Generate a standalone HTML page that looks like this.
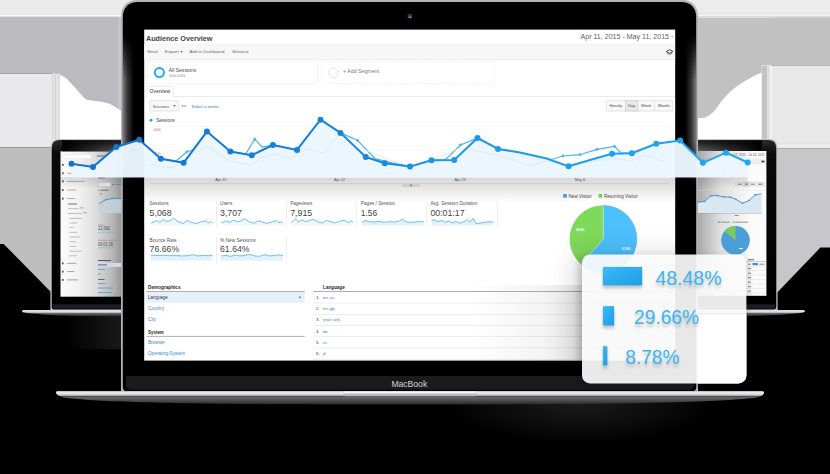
<!DOCTYPE html>
<html><head><meta charset="utf-8"><title>Analytics devices</title>
<style>
html,body{margin:0;padding:0;background:#000;width:830px;height:474px;overflow:hidden}
svg{display:block;font-family:"Liberation Sans",sans-serif}
</style></head><body>
<svg width="830" height="474" viewBox="0 0 830 474">
<defs>
<linearGradient id="lineg" gradientUnits="userSpaceOnUse" x1="71" y1="0" x2="748" y2="0">
<stop offset="0" stop-color="#1571d0"/><stop offset="0.25" stop-color="#167bd8"/><stop offset="0.45" stop-color="#1789e2"/><stop offset="0.56" stop-color="#1a98ea"/><stop offset="1" stop-color="#21a6f2"/></linearGradient>
<linearGradient id="shadowdown" x1="0" y1="0" x2="0" y2="1">
<stop offset="0" stop-color="#000" stop-opacity="0.155"/><stop offset="0.3" stop-color="#000" stop-opacity="0.12"/><stop offset="1" stop-color="#000" stop-opacity="0"/></linearGradient>
<linearGradient id="baseg" x1="0" y1="0" x2="0" y2="1">
<stop offset="0" stop-color="#a4a4a6"/><stop offset="0.06" stop-color="#d6d6d8"/><stop offset="0.16" stop-color="#f3f3f3"/><stop offset="0.3" stop-color="#bdbdbf"/><stop offset="0.37" stop-color="#a0a0a3"/><stop offset="0.41" stop-color="#48484b"/><stop offset="0.48" stop-color="#646468"/><stop offset="0.75" stop-color="#47474a"/><stop offset="1" stop-color="#262628"/></linearGradient>
<linearGradient id="sbaseg" x1="0" y1="0" x2="0" y2="1">
<stop offset="0" stop-color="#c8c8ca"/><stop offset="0.12" stop-color="#f2f2f2"/><stop offset="0.38" stop-color="#c0c0c2"/><stop offset="0.5" stop-color="#6a6a6d"/><stop offset="0.75" stop-color="#4a4a4d"/><stop offset="1" stop-color="#222"/></linearGradient>
<linearGradient id="bezL" x1="0" y1="0" x2="1" y2="0">
<stop offset="0" stop-color="#7e7e7e"/><stop offset="0.45" stop-color="#343434"/><stop offset="1" stop-color="#000"/></linearGradient>
<linearGradient id="bezR" x1="1" y1="0" x2="0" y2="0">
<stop offset="0" stop-color="#7e7e7e"/><stop offset="0.45" stop-color="#343434"/><stop offset="1" stop-color="#000"/></linearGradient>
<linearGradient id="fadeV" x1="0" y1="0" x2="0" y2="1">
<stop offset="0" stop-color="#fff" stop-opacity="0"/><stop offset="0.3" stop-color="#fff" stop-opacity="1"/><stop offset="0.7" stop-color="#fff" stop-opacity="1"/><stop offset="1" stop-color="#fff" stop-opacity="0"/></linearGradient>
<mask id="mV" maskContentUnits="objectBoundingBox"><rect x="0" y="0" width="1" height="1" fill="url(#fadeV)"/></mask>
<linearGradient id="sl_screen" x1="0" y1="0" x2="1" y2="0">
<stop offset="0" stop-color="#fbfbfb"/><stop offset="0.3" stop-color="#f1f1f1"/><stop offset="0.55" stop-color="#dddddd"/><stop offset="0.8" stop-color="#b9b9b9"/><stop offset="1" stop-color="#8a8a8a"/></linearGradient>
<linearGradient id="sr_screen" x1="0" y1="0" x2="1" y2="0">
<stop offset="0" stop-color="#9f9f9f"/><stop offset="0.35" stop-color="#dedede"/><stop offset="0.8" stop-color="#fbfbfb"/></linearGradient>
<linearGradient id="panelshadow" x1="1" y1="0" x2="0" y2="0">
<stop offset="0" stop-color="#000" stop-opacity="0.09"/><stop offset="0.4" stop-color="#000" stop-opacity="0.04"/><stop offset="1" stop-color="#000" stop-opacity="0"/></linearGradient>
<linearGradient id="barg" x1="0" y1="0" x2="1" y2="1">
<stop offset="0" stop-color="#3cb9f7"/><stop offset="1" stop-color="#1c9de8"/></linearGradient>
<linearGradient id="sbezel" x1="0" y1="0" x2="0" y2="1">
<stop offset="0" stop-color="#2b2b2b"/><stop offset="0.08" stop-color="#0a0a0a"/><stop offset="1" stop-color="#000"/></linearGradient>
<clipPath id="scr"><rect x="144.2" y="29.6" width="531" height="331"/></clipPath>
<linearGradient id="glowL" x1="0" y1="0" x2="1" y2="0"><stop offset="0" stop-color="#1d1d1d" stop-opacity="0"/><stop offset="1" stop-color="#1c1c1c" stop-opacity="0.9"/></linearGradient>
<filter id="blurT" x="-10%" y="-30%" width="120%" height="160%"><feGaussianBlur stdDeviation="1.6"/></filter>
<filter id="blur3" x="-30%" y="-30%" width="160%" height="160%"><feGaussianBlur stdDeviation="13"/></filter>
<linearGradient id="tbR" x1="0" y1="0" x2="1" y2="0"><stop offset="0" stop-color="#606060"/><stop offset="0.5" stop-color="#2e2e2e"/><stop offset="1" stop-color="#000"/></linearGradient>
<linearGradient id="tbL" x1="1" y1="0" x2="0" y2="0"><stop offset="0" stop-color="#606060"/><stop offset="0.5" stop-color="#2e2e2e"/><stop offset="1" stop-color="#000"/></linearGradient>
<linearGradient id="tbV" x1="0" y1="0" x2="0" y2="1"><stop offset="0" stop-color="#000" stop-opacity="0.75"/><stop offset="1" stop-color="#000" stop-opacity="0"/></linearGradient>
<radialGradient id="botglow"><stop offset="0" stop-color="#1a1a1a"/><stop offset="0.5" stop-color="#0e0e0e"/><stop offset="1" stop-color="#000"/></radialGradient>
<filter id="blur1"><feGaussianBlur stdDeviation="0.35"/></filter>
<filter id="blur2"><feGaussianBlur stdDeviation="3"/></filter>
</defs>
<rect width="830" height="474" fill="#000"/>
<rect x="0" y="0" width="142" height="17" fill="#ebebeb"/>
<rect x="0" y="15" width="124" height="1.3" fill="#f8f8f8"/>
<rect x="52" y="17" width="72" height="124" fill="#fff"/>
<path d="M0,16.8 H124 V112.3 L122.8,111.5 L116,107.4 L110,104 L105,102.6 L100,101.5 L93,100.8 L86.5,99.7 L84,97.8 L82,95.5 L75.2,87.7 L67.7,79.7 L65.2,77.6 L63,76.2 L59,74.4 L52.3,73.5 H0 Z" fill="#bbbbbd"/>
<rect x="118" y="17" width="5" height="92" fill="#c6c6c8"/>
<rect x="0" y="73.5" width="52.5" height="74" fill="#e9e9eb"/>
<rect x="52.1" y="73.6" width="7.6" height="66" fill="#e3e3e4"/><rect x="52.2" y="73.6" width="0.8" height="66" fill="#d2d2d2"/><rect x="55.2" y="73.6" width="0.8" height="66" fill="#cecece"/><rect x="58.7" y="75" width="0.9" height="65" fill="#d4d4d4"/>
<path d="M0,147.4 H52.5 V293.5 L50.4,291.5 L3.7,244 H0 Z" fill="#bebebf"/>
<rect x="678" y="0" width="152" height="18" fill="#ececec"/>
<rect x="696" y="13.4" width="134" height="0.9" fill="#dedede"/><rect x="696" y="14.6" width="134" height="1.2" fill="#f4f4f4"/><rect x="696" y="16.2" width="134" height="1" fill="#d8d8d8"/>
<rect x="696" y="17" width="75" height="124" fill="#fff"/>
<path d="M830,17.6 H696 V118.6 L698.6,118.2 L705.3,117.6 L709,115.5 L713.8,111.5 L718,106 L722,100.5 L726,96 L730.7,91.2 L736,87 L741,83.5 L747.6,79.4 L754,76 L761.7,72.6 V65.4 H830 Z" fill="#c1c1c1"/>
<rect x="771" y="65.4" width="60" height="83" fill="#e8e8e8"/>
<rect x="761.7" y="66" width="5.5" height="75" fill="#c3c3c3"/><rect x="767.1" y="65.4" width="3.1" height="75" fill="#dedede"/><rect x="770.1" y="65.4" width="1.5" height="75" fill="#f6f6f6"/>
<path d="M776,148.2 H830 V247.6 H820.4 L777,292.7 Z" fill="#c7c7c9"/><rect x="777.6" y="145.4" width="53" height="2" fill="#f0f0f0"/><rect x="777.6" y="142.8" width="53" height="0.9" fill="#e0e0e0"/>
<path d="M50.4,310.3 V147.6 Q50.4,139 59,139 H124 V310.3 Z" fill="#c4c4c6"/>
<path d="M51.7,306.8 V147.8 Q51.7,139.9 59.6,139.9 H124 V309.4 H54 Q51.7,309.4 51.7,306.8 Z" fill="url(#sbezel)"/>
<rect x="53" y="304.3" width="71" height="4.4" fill="#1d1d21"/>
<rect x="60.5" y="151.3" width="64" height="145.4" fill="url(#sl_screen)"/>
<path d="M22,311.5 C22,310.5 23,310.1 25,310.1 H124 V316.3 C100,316.3 62,315.8 42,314.4 C31,313.6 22,312.8 22,311.5 Z" fill="url(#sbaseg)"/>
<rect x="62" y="140.6" width="62" height="10.7" fill="url(#tbL)"/><rect x="62" y="140.6" width="62" height="10.7" fill="url(#tbV)"/>
<rect x="61.7" y="154.8" width="29.6" height="3.8" fill="#fbfbfb" stroke="#e2e2e2" stroke-width="0.4"/>
<rect x="62" y="163.9" width="1.6" height="2" fill="#555"/>
<rect x="62" y="172.3" width="1.6" height="2" fill="#555"/>
<rect x="67.2" y="172.85000000000002" width="5" height="0.9" fill="#a5a5a5"/>
<rect x="62" y="180.3" width="1.6" height="2" fill="#555"/>
<rect x="67.2" y="180.85000000000002" width="17" height="0.9" fill="#a5a5a5"/>
<rect x="62" y="189" width="1.6" height="2" fill="#555"/>
<rect x="67.2" y="189.55" width="9" height="0.9" fill="#a5a5a5"/>
<rect x="62" y="197.6" width="1.6" height="2" fill="#555"/>
<rect x="67.2" y="198.15" width="8" height="0.9" fill="#a5a5a5"/>
<rect x="68" y="203.55" width="9" height="0.9" fill="#666"/>
<rect x="68" y="208.25" width="11" height="0.9" fill="#b8b8b8"/>
<rect x="68" y="213.15" width="14" height="0.9" fill="#b8b8b8"/>
<rect x="69" y="217.95000000000002" width="13" height="0.9" fill="#b8b8b8"/>
<rect x="69.5" y="222.55" width="7.5" height="0.9" fill="#b8b8b8"/>
<rect x="69.5" y="227.15" width="4" height="0.9" fill="#b8b8b8"/>
<rect x="69.5" y="231.85000000000002" width="7.5" height="0.9" fill="#b8b8b8"/>
<rect x="69.5" y="236.55" width="10.5" height="0.9" fill="#b8b8b8"/>
<rect x="69.5" y="241.35000000000002" width="6.5" height="0.9" fill="#b8b8b8"/>
<rect x="69.5" y="246.05" width="6.5" height="0.9" fill="#b8b8b8"/>
<rect x="69.5" y="250.75" width="12.5" height="0.9" fill="#b8b8b8"/>
<rect x="68.5" y="255.35000000000002" width="8.5" height="0.9" fill="#b8b8b8"/>
<rect x="80" y="207.4" width="3.6" height="0.9" fill="#e8863a"/><rect x="83" y="212.2" width="3.6" height="0.9" fill="#e8863a"/>
<rect x="62" y="262.3" width="1.6" height="2" fill="#555"/><rect x="67.2" y="262.85" width="9" height="0.9" fill="#9a9a9a"/>
<rect x="62" y="270.6" width="1.6" height="2" fill="#555"/><rect x="67.2" y="271.15000000000003" width="7" height="0.9" fill="#9a9a9a"/>
<rect x="62" y="278.9" width="1.6" height="2" fill="#555"/><rect x="67.2" y="279.45" width="11" height="0.9" fill="#9a9a9a"/>
<rect x="96.8" y="155.2" width="14" height="1.6" fill="#777" opacity="0.7"/>
<rect x="98" y="177.4" width="7" height="1" fill="#555" opacity="0.8"/>
<rect x="98.5" y="182.4" width="12" height="3.9" fill="#e9e9e9" stroke="#b5b5b5" stroke-width="0.3"/>
<rect x="112" y="184" width="2.5" height="0.8" fill="#777"/><rect x="116" y="184" width="5" height="0.8" fill="#4a8ec4"/>
<circle cx="98.8" cy="190.2" r="0.7" fill="#3a8cc4"/><rect x="100.6" y="189.8" width="8" height="0.9" fill="#666"/>
<rect x="99.5" y="193.6" width="3" height="0.8" fill="#888"/>
<path d="M99.2,203.5 L105.6,199.8 L112.3,198.5 L118,198.7 L124,198.8 V213.3 H99.2 Z" fill="#c3d2de" opacity="0.85"/>
<path d="M99.2,203.5 L105.6,199.8 L112.3,198.5 L118,198.7 L124,198.8" fill="none" stroke="#3f86b8" stroke-width="0.8"/>
<circle cx="105.6" cy="199.8" r="0.8" fill="#3f86b8"/><circle cx="112.3" cy="198.5" r="0.8" fill="#3f86b8"/>
<rect x="98" y="224.6" width="5.5" height="0.8" fill="#999"/>
<text x="98" y="230.1" font-size="4.6" fill="#4a4a4a" font-weight="normal" text-anchor="start" textLength="12" lengthAdjust="spacingAndGlyphs" >12,062</text>
<path d="M98,232.6 l2,-0.5 l2,0.6 l2,-0.8 l2,0.7 l2,-0.4 l2,0.5 l2,-0.9 l2,0.6 l2,-0.3 l2,0.4 l2,-0.5 l2,0.3" fill="none" stroke="#6fb2d8" stroke-width="0.6"/>
<rect x="98" y="239.8" width="20" height="0.8" fill="#999"/>
<text x="98" y="245.7" font-size="4.6" fill="#4a4a4a" font-weight="normal" text-anchor="start" textLength="15" lengthAdjust="spacingAndGlyphs" >00:01:16</text>
<path d="M98,248 l2,-0.4 l2,0.5 l2,-0.6 l2,0.7 l2,-0.5 l2,0.4 l2,-0.8 l2,0.6 l2,-0.2 l2,0.4 l2,-0.5 l2,0.3" fill="none" stroke="#6fb2d8" stroke-width="0.6"/>
<rect x="98" y="260" width="13" height="1" fill="#555"/>
<rect x="97" y="263" width="27" height="3.9" fill="#cfdbe6"/><rect x="98" y="264.5" width="9" height="0.9" fill="#556"/>
<rect x="98" y="268.95" width="7" height="0.9" fill="#5b9bd0"/>
<rect x="98" y="273.55" width="3" height="0.9" fill="#5b9bd0"/>
<rect x="98" y="278.95" width="6.5" height="0.9" fill="#555"/>
<rect x="98" y="283.15000000000003" width="7" height="0.9" fill="#5b9bd0"/>
<rect x="98" y="287.55" width="15" height="0.9" fill="#5b9bd0"/>
<rect x="98" y="292.05" width="14" height="0.9" fill="#5b9bd0"/>
<rect x="66" y="316" width="56" height="33" fill="url(#glowL)"/>
<path d="M690,139 H769 Q777.6,139 777.6,147.6 V310.3 H690 Z" fill="#c4c4c6"/>
<path d="M690,139.9 H768.4 Q776.3,139.9 776.3,147.8 V306.8 Q776.3,309.4 774,309.4 H690 Z" fill="url(#sbezel)"/>
<rect x="690" y="304.3" width="85" height="4.4" fill="#1d1d21"/>
<rect x="694" y="151" width="72.4" height="144.8" fill="url(#sr_screen)"/>
<path d="M694,310.1 H802 C804,310.1 805,310.5 805,311.5 C805,312.8 796,313.6 785,314.4 C765,315.8 727,316.3 694,316.3 Z" fill="url(#sbaseg)"/>
<rect x="696" y="140.6" width="66" height="10.4" fill="url(#tbR)"/><rect x="696" y="140.6" width="66" height="10.4" fill="url(#tbV)"/>
<rect x="694" y="158.5" width="72.4" height="5.9" fill="#000" opacity="0.05"/>
<text x="764.5" y="156.3" font-size="3" fill="#555" font-weight="normal" text-anchor="end" >Jun 17, 2015 - Jul 16, 2015</text>
<rect x="761.4" y="160.7" width="3" height="1.6" fill="#333"/>
<rect x="735.9" y="182.1" width="28.1" height="3.9" fill="#f4f4f4" stroke="#b5b5b5" stroke-width="0.35"/>
<rect x="743.6" y="182.1" width="5.6" height="3.9" fill="#dedede" stroke="#aaa" stroke-width="0.3"/>
<rect x="756.4" y="182.1" width="0.35" height="3.9" fill="#bbb"/>
<rect x="737.3" y="183.7" width="4.6" height="0.9" fill="#666"/>
<rect x="745" y="183.7" width="2.8" height="0.9" fill="#666"/>
<rect x="750.8" y="183.7" width="4" height="0.9" fill="#666"/>
<rect x="758" y="183.7" width="4.4" height="0.9" fill="#666"/>
<path d="M694,202.4 L698.6,202 L704.5,201.5 L711.1,195.8 L717.4,195.6 L723.7,197 L730,197 L735.9,199.3 L742.5,203.3 L748.8,200.6 L755,194.9 L761.4,193.8 V213.1 H694 Z" fill="#d9e7f2"/>
<path d="M694,202.4 L698.6,202 L704.5,201.5 L711.1,195.8 L717.4,195.6 L723.7,197 L730,197 L735.9,199.3 L742.5,203.3 L748.8,200.6 L755,194.9 L761.4,193.8" fill="none" stroke="#3f8fc4" stroke-width="0.9"/>
<circle cx="698.6" cy="202" r="0.8" fill="#3f8fc4"/>
<circle cx="704.5" cy="201.5" r="0.8" fill="#3f8fc4"/>
<circle cx="711.1" cy="195.8" r="0.8" fill="#3f8fc4"/>
<circle cx="717.4" cy="195.6" r="0.8" fill="#3f8fc4"/>
<circle cx="723.7" cy="197" r="0.8" fill="#3f8fc4"/>
<circle cx="730" cy="197" r="0.8" fill="#3f8fc4"/>
<circle cx="735.9" cy="199.3" r="0.8" fill="#3f8fc4"/>
<circle cx="742.5" cy="203.3" r="0.8" fill="#3f8fc4"/>
<circle cx="748.8" cy="200.6" r="0.8" fill="#3f8fc4"/>
<circle cx="755" cy="194.9" r="0.8" fill="#3f8fc4"/>
<rect x="698" y="213.1" width="64" height="0.4" fill="#999"/>
<rect x="698" y="190" width="68" height="0.3" fill="#ddd"/>
<rect x="734.6" y="215.2" width="4" height="0.8" fill="#777"/>
<rect x="718.2" y="221.3" width="1.6" height="1.6" fill="#3da5e0"/><rect x="720.6" y="221.7" width="9" height="0.9" fill="#888"/>
<rect x="732.8" y="221.3" width="1.6" height="1.6" fill="#7bd04f"/><rect x="735.2" y="221.7" width="13" height="0.9" fill="#888"/>
<circle cx="735.5" cy="240.3" r="14.3" fill="#4b9fd6"/>
<path d="M735.5,240.3 L724.55,231.11 A14.3,14.3 0 0 1 735.5,226.0 Z" fill="#7ccb5a"/>
<rect x="739" y="248" width="4" height="1" fill="#fff"/>
<rect x="748" y="259.3" width="6" height="0.9" fill="#555"/>
<rect x="746" y="261.6" width="20" height="0.4" fill="#888"/>
<rect x="746" y="265.9" width="20" height="0.3" fill="#ccc"/>
<rect x="748" y="263.7" width="3" height="0.9" fill="#777"/>
<rect x="746" y="270.4" width="20" height="0.3" fill="#ccc"/>
<rect x="748" y="268.2" width="3" height="0.9" fill="#777"/>
<rect x="746" y="274.9" width="20" height="0.3" fill="#ccc"/>
<rect x="748" y="272.7" width="3" height="0.9" fill="#777"/>
<rect x="746" y="279.4" width="20" height="0.3" fill="#ccc"/>
<rect x="748" y="277.2" width="3" height="0.9" fill="#777"/>
<rect x="746" y="283.9" width="20" height="0.3" fill="#ccc"/>
<rect x="748" y="281.7" width="3" height="0.9" fill="#777"/>
<rect x="746" y="288.4" width="20" height="0.3" fill="#ccc"/>
<rect x="748" y="286.2" width="3" height="0.9" fill="#777"/>
<rect x="746" y="292.9" width="20" height="0.3" fill="#ccc"/>
<rect x="748" y="290.7" width="3" height="0.9" fill="#777"/>
<rect x="752.5" y="263" width="5.5" height="2.2" fill="#3f8fc4"/>
<rect x="759.5" y="263.7" width="5" height="0.9" fill="#777"/>
<ellipse cx="580" cy="404" rx="135" ry="40" fill="url(#botglow)"/>
<path d="M121,392 V16.5 C121,6 127,0 137.5,0 H681.5 C692,0 698,6 698,16.5 V392 Z" fill="#b4b4b7"/>
<path d="M122.8,387 V17 C122.8,7.5 128.5,1.9 138,1.9 H681 C690.5,1.9 696.2,7.5 696.2,17 V387 Q696.2,391.2 692.2,391.2 H126.8 Q122.8,391.2 122.8,387 Z" fill="#000"/>
<rect x="122.7" y="35" width="11" height="150" fill="url(#bezL)" mask="url(#mV)"/>
<rect x="685.3" y="35" width="11" height="150" fill="url(#bezR)" mask="url(#mV)"/>
<path d="M126,376 H694 V384.6 Q694,389.8 688.8,389.8 H131.2 Q126,389.8 126,384.6 Z" fill="#1b1b1f"/>
<text x="391.4" y="387.4" font-size="9.9" fill="#d4d4d6" font-weight="normal" text-anchor="start" textLength="35.8" lengthAdjust="spacingAndGlyphs" >MacBook</text>
<circle cx="409.7" cy="16.1" r="2.3" fill="#3a3b3a"/><circle cx="409.9" cy="16.6" r="1.7" fill="#8e9090"/><circle cx="409.5" cy="15.8" r="1.35" fill="#1b2a84"/>
<path d="M56,392.4 C56,391.3 57,390.9 59,390.9 H761 C763,390.9 764,391.3 764,392.4 C764,394.5 762,396 757,397.5 C720,402.5 620,404.6 410,404.6 C200,404.6 100,402.5 63,397.5 C58,396 56,394.5 56,392.6 Z" fill="url(#baseg)"/>
<path d="M343.5,391.3 H476.5 V394.2 Q476.5,396.3 473.5,396.3 H346.5 Q343.5,396.3 343.5,394.2 Z" fill="#b9b9bc"/>
<rect x="343.5" y="391.3" width="133" height="2.2" fill="#f6f6f6"/>
<rect x="144.2" y="29.6" width="531" height="331" fill="#fff"/>
<g clip-path="url(#scr)">
<text x="146" y="41.4" font-size="7.9" fill="#454545" font-weight="bold" text-anchor="start" textLength="66.3" lengthAdjust="spacingAndGlyphs" >Audience Overview</text>
<text x="669" y="39.3" font-size="7.2" fill="#606060" font-weight="normal" text-anchor="end" textLength="88.5" lengthAdjust="spacingAndGlyphs" >Apr 11, 2015 - May 11, 2015</text>
<path d="M671,35.7 l2.6,0 l-1.3,1.6 z" fill="#aaa"/>
<rect x="144.2" y="44.3" width="531" height="15.2" fill="#f7f7f7"/><rect x="144.2" y="59.4" width="531" height="0.5" fill="#e3e3e3"/><rect x="144.2" y="44.2" width="531" height="0.4" fill="#ececec"/>
<text x="147.4" y="53.1" font-size="4.4" fill="#6a6a6a" font-weight="normal" text-anchor="start" textLength="10.2" lengthAdjust="spacingAndGlyphs" >Email</text>
<text x="164.8" y="53.1" font-size="4.4" fill="#6a6a6a" font-weight="normal" text-anchor="start" textLength="14" lengthAdjust="spacingAndGlyphs" >Export</text>
<path d="M180.4,51 l2.4,0 l-1.2,1.4 z" fill="#555"/>
<text x="189.4" y="53.1" font-size="4.4" fill="#6a6a6a" font-weight="normal" text-anchor="start" textLength="35" lengthAdjust="spacingAndGlyphs" >Add to Dashboard</text>
<text x="232" y="53.1" font-size="4.4" fill="#6a6a6a" font-weight="normal" text-anchor="start" textLength="16.6" lengthAdjust="spacingAndGlyphs" >Shortcut</text>
<path d="M666.2,51.5 l3.4,-1.8 l3.4,1.8 l-3.4,1.8 z" fill="#f2f2f2" stroke="#2e2e2e" stroke-width="0.9" stroke-linejoin="round"/><path d="M667.6,52.8 v1 q2,1 4,0 v-1" fill="none" stroke="#444" stroke-width="0.6"/>
<rect x="147.2" y="61" width="170" height="22.6" rx="1.5" fill="#fff" stroke="#ebebeb" stroke-width="0.6"/>
<circle cx="159.4" cy="72.6" r="4.55" fill="none" stroke="#1ea7ef" stroke-width="1.9"/>
<text x="168.7" y="72" font-size="5.3" fill="#4a4a4a" font-weight="normal" text-anchor="start" textLength="27.5" lengthAdjust="spacingAndGlyphs" >All Sessions</text>
<text x="168.7" y="77.3" font-size="4" fill="#888" font-weight="normal" text-anchor="start" textLength="17" lengthAdjust="spacingAndGlyphs" >100.00%</text>
<rect x="321.4" y="61" width="173" height="22.6" rx="1.5" fill="#fff" stroke="#dcdcdc" stroke-width="0.6" stroke-dasharray="1 1.2"/>
<circle cx="333.3" cy="72.7" r="4.8" fill="#fff" stroke="#d5d5d5" stroke-width="0.7"/>
<text x="343" y="73.4" font-size="5" fill="#777" font-weight="normal" text-anchor="start" textLength="36" lengthAdjust="spacingAndGlyphs" >+ Add Segment</text>
<rect x="144.2" y="96" width="531" height="0.6" fill="#dcdcdc"/>
<path d="M146.8,96.6 V87.2 Q146.8,86.2 147.8,86.2 H172.2 Q173.2,86.2 173.2,87.2 V96.6" fill="#fff" stroke="#d9d9d9" stroke-width="0.6"/>
<rect x="147.2" y="95.6" width="25.6" height="1.4" fill="#fff"/>
<text x="149.6" y="93.2" font-size="4.8" fill="#333" font-weight="normal" text-anchor="start" textLength="20.6" lengthAdjust="spacingAndGlyphs" >Overview</text>
<rect x="149.8" y="100.8" width="28.5" height="10.2" rx="1" fill="#fafafa" stroke="#d0d0d0" stroke-width="0.6"/>
<text x="152.8" y="107.5" font-size="4.3" fill="#555" font-weight="normal" text-anchor="start" textLength="16.4" lengthAdjust="spacingAndGlyphs" >Sessions</text>
<path d="M173.2,105.2 l2.6,0 l-1.3,1.6 z" fill="#444"/>
<text x="181.5" y="107.3" font-size="4.3" fill="#555" font-weight="normal" text-anchor="start" >vs.</text>
<text x="191.6" y="107.5" font-size="4.3" fill="#2a7bc0" font-weight="normal" text-anchor="start" textLength="27.6" lengthAdjust="spacingAndGlyphs" >Select a metric</text>
<rect x="606.4" y="100.8" width="66.2" height="10.2" rx="1" fill="#fafafa" stroke="#d0d0d0" stroke-width="0.6"/>
<rect x="625.4" y="100.8" width="12.6" height="10.2" fill="#e9e9e9" stroke="#c4c4c4" stroke-width="0.6"/>
<rect x="654.6" y="100.8" width="0.5" height="10.2" fill="#d0d0d0"/>
<text x="609.6" y="107.4" font-size="4.2" fill="#444" font-weight="normal" text-anchor="start" textLength="12.6" lengthAdjust="spacingAndGlyphs" >Hourly</text>
<text x="628.2" y="107.4" font-size="4.2" fill="#444" font-weight="normal" text-anchor="start" textLength="7" lengthAdjust="spacingAndGlyphs" >Day</text>
<text x="641" y="107.4" font-size="4.2" fill="#444" font-weight="normal" text-anchor="start" textLength="10.4" lengthAdjust="spacingAndGlyphs" >Week</text>
<text x="658" y="107.4" font-size="4.2" fill="#444" font-weight="normal" text-anchor="start" textLength="11.6" lengthAdjust="spacingAndGlyphs" >Month</text>
<circle cx="151" cy="120.3" r="1.4" fill="#1a9be8"/>
<text x="156.2" y="122.2" font-size="5.2" fill="#444" font-weight="normal" text-anchor="start" textLength="18.6" lengthAdjust="spacingAndGlyphs" >Sessions</text>
<text x="153.6" y="131.4" font-size="4.2" fill="#888" font-weight="normal" text-anchor="start" >400</text>
<text x="153.6" y="154.6" font-size="4.2" fill="#888" font-weight="normal" text-anchor="start" >200</text>
<rect x="150" y="126.6" width="520" height="0.4" fill="#ececec"/>
<rect x="150" y="150.2" width="520" height="0.4" fill="#ececec"/>
<path d="M150,163 L162,163.5 L160.8,158.7 L176,161 L186.8,152 L193,149.8 L206.9,131.6 L230.4,151.4 L245,155 L254.7,139.2 L262,147 L272.9,145 L297,149.9 L320.5,119.7 L340.5,132.9 L357.7,140.5 L375,158.7 L392,162.8 L410,166.6 L431.6,160.2 L445,160 L460.5,145 L477.5,138 L498,148.9 L521,152.7 L546.6,158.2 L551.6,159.5 L563,156 L580,154.7 L597,149.4 L614.4,146.3 L621,153 L631.8,153.2 L656.3,143.8 L672,141.5" fill="none" stroke="#4ab6ec" stroke-width="1.2"/>
<circle cx="186.8" cy="152" r="1.4" fill="#4ab6ec"/>
<circle cx="254.7" cy="139.2" r="1.4" fill="#4ab6ec"/>
<circle cx="357.7" cy="140.5" r="1.4" fill="#4ab6ec"/>
<circle cx="460.5" cy="145" r="1.4" fill="#4ab6ec"/>
<circle cx="563" cy="156" r="1.4" fill="#4ab6ec"/>
<circle cx="580" cy="154.7" r="1.4" fill="#4ab6ec"/>
<circle cx="597" cy="149.4" r="1.4" fill="#4ab6ec"/>
<circle cx="614.4" cy="146.3" r="1.4" fill="#4ab6ec"/>
<rect x="144.2" y="177.4" width="531" height="25" fill="url(#shadowdown)"/>
<rect x="150" y="183.2" width="520" height="0.8" fill="#000" opacity="0.1"/>
<text x="220.8" y="181" font-size="3.8" fill="#555" font-weight="normal" text-anchor="middle" >Apr 15</text>
<text x="339.6" y="181" font-size="3.8" fill="#555" font-weight="normal" text-anchor="middle" >Apr 22</text>
<text x="460" y="181" font-size="3.8" fill="#555" font-weight="normal" text-anchor="middle" >Apr 29</text>
<text x="580" y="181" font-size="3.8" fill="#555" font-weight="normal" text-anchor="middle" >May 6</text>
<path d="M401.5,184 H420.5 L419.5,187 H402.5 Z" fill="#cfcfcf"/><path d="M409.8,184.8 l2.4,0 l-1.2,1.4 z" fill="#444"/>
<text x="149.6" y="205.1" font-size="5.2" fill="#555" font-weight="normal" text-anchor="start" textLength="19" lengthAdjust="spacingAndGlyphs" >Sessions</text>
<text x="149.6" y="215.70000000000002" font-size="8.4" fill="#444" font-weight="normal" text-anchor="start" textLength="22" lengthAdjust="spacingAndGlyphs" >5,068</text>
<path d="M150.8,223.3 L156.4,220.6 L159.8,222.3 L163.2,219.6 L166.6,221.7 L170.0,220.6 L173.7,218.3 L178.0,221.7 L182.9,223.5 L187.3,220.6 L191.6,222.5 L195.9,223.5 L201.5,221.7 L205.8,220.6 L208.3,223.0 L210.4,221.7 L212.6,223.0 L212.6,225.4 L150.79999999999998,225.4 Z" fill="#f0f8fd"/>
<path d="M150.8,223.3 L156.4,220.6 L159.8,222.3 L163.2,219.6 L166.6,221.7 L170.0,220.6 L173.7,218.3 L178.0,221.7 L182.9,223.5 L187.3,220.6 L191.6,222.5 L195.9,223.5 L201.5,221.7 L205.8,220.6 L208.3,223.0 L210.4,221.7 L212.6,223.0" fill="none" stroke="#4ab4e6" stroke-width="0.8" stroke-linejoin="round"/>
<text x="220" y="205.1" font-size="5.2" fill="#555" font-weight="normal" text-anchor="start" textLength="12.4" lengthAdjust="spacingAndGlyphs" >Users</text>
<text x="220" y="215.70000000000002" font-size="8.4" fill="#444" font-weight="normal" text-anchor="start" textLength="22" lengthAdjust="spacingAndGlyphs" >3,707</text>
<path d="M221.2,223.0 L226.1,221.0 L229.9,222.5 L233.6,220.0 L237.3,221.8 L241.0,221.0 L244.7,218.6 L249.0,221.7 L254.0,223.3 L258.3,220.8 L262.6,222.3 L266.9,223.4 L272.5,221.8 L276.8,220.5 L279.0,222.9 L281.1,221.7 L283.0,223.1 L283,225.4 L221.2,225.4 Z" fill="#f0f8fd"/>
<path d="M221.2,223.0 L226.1,221.0 L229.9,222.5 L233.6,220.0 L237.3,221.8 L241.0,221.0 L244.7,218.6 L249.0,221.7 L254.0,223.3 L258.3,220.8 L262.6,222.3 L266.9,223.4 L272.5,221.8 L276.8,220.5 L279.0,222.9 L281.1,221.7 L283.0,223.1" fill="none" stroke="#4ab4e6" stroke-width="0.8" stroke-linejoin="round"/>
<text x="290.2" y="205.1" font-size="5.2" fill="#555" font-weight="normal" text-anchor="start" textLength="22" lengthAdjust="spacingAndGlyphs" >Pageviews</text>
<text x="290.2" y="215.70000000000002" font-size="8.4" fill="#444" font-weight="normal" text-anchor="start" textLength="22" lengthAdjust="spacingAndGlyphs" >7,915</text>
<path d="M291.4,222.3 L295.7,219.0 L298.8,222.0 L301.9,219.6 L305.6,221.7 L309.9,220.3 L313.6,219.3 L318.0,222.0 L322.3,223.0 L326.6,220.3 L330.3,221.7 L334.7,223.0 L339.6,221.3 L344.5,220.3 L348.3,222.7 L350.7,221.0 L353.2,222.3 L353.2,225.4 L291.4,225.4 Z" fill="#f0f8fd"/>
<path d="M291.4,222.3 L295.7,219.0 L298.8,222.0 L301.9,219.6 L305.6,221.7 L309.9,220.3 L313.6,219.3 L318.0,222.0 L322.3,223.0 L326.6,220.3 L330.3,221.7 L334.7,223.0 L339.6,221.3 L344.5,220.3 L348.3,222.7 L350.7,221.0 L353.2,222.3" fill="none" stroke="#4ab4e6" stroke-width="0.8" stroke-linejoin="round"/>
<text x="360.8" y="205.1" font-size="5.2" fill="#555" font-weight="normal" text-anchor="start" textLength="34.2" lengthAdjust="spacingAndGlyphs" >Pages / Session</text>
<text x="360.8" y="215.70000000000002" font-size="8.4" fill="#444" font-weight="normal" text-anchor="start" textLength="16.4" lengthAdjust="spacingAndGlyphs" >1.56</text>
<path d="M362.0,222.0 L365.7,220.6 L369.4,221.7 L374.4,222.0 L379.3,221.3 L384.2,222.3 L389.2,221.7 L394.1,222.0 L399.1,221.0 L402.8,219.0 L405.3,221.7 L410.2,222.3 L415.1,222.0 L419.5,221.3 L423.8,221.7 L423.8,225.4 L362.0,225.4 Z" fill="#e2f1fb"/>
<path d="M362.0,222.0 L365.7,220.6 L369.4,221.7 L374.4,222.0 L379.3,221.3 L384.2,222.3 L389.2,221.7 L394.1,222.0 L399.1,221.0 L402.8,219.0 L405.3,221.7 L410.2,222.3 L415.1,222.0 L419.5,221.3 L423.8,221.7" fill="none" stroke="#4ab4e6" stroke-width="0.8" stroke-linejoin="round"/>
<text x="430.4" y="205.1" font-size="5.2" fill="#555" font-weight="normal" text-anchor="start" textLength="47" lengthAdjust="spacingAndGlyphs" >Avg. Session Duration</text>
<text x="430.4" y="215.70000000000002" font-size="8.4" fill="#444" font-weight="normal" text-anchor="start" textLength="34.2" lengthAdjust="spacingAndGlyphs" >00:01:17</text>
<path d="M431.6,220.6 L434.7,219.6 L437.8,221.7 L441.5,220.3 L445.2,222.3 L448.9,221.0 L452.6,223.0 L456.3,221.3 L460.0,223.3 L463.7,221.7 L467.4,219.6 L469.9,222.3 L473.0,218.3 L476.1,223.7 L481.0,223.0 L486.0,222.0 L490.3,221.7 L493.4,222.3 L493.4,225.4 L431.59999999999997,225.4 Z" fill="#e2f1fb"/>
<path d="M431.6,220.6 L434.7,219.6 L437.8,221.7 L441.5,220.3 L445.2,222.3 L448.9,221.0 L452.6,223.0 L456.3,221.3 L460.0,223.3 L463.7,221.7 L467.4,219.6 L469.9,222.3 L473.0,218.3 L476.1,223.7 L481.0,223.0 L486.0,222.0 L490.3,221.7 L493.4,222.3" fill="none" stroke="#4ab4e6" stroke-width="0.8" stroke-linejoin="round"/>
<rect x="216" y="201.5" width="0.5" height="25.5" fill="#dcdcdc"/>
<rect x="286.4" y="201.5" width="0.5" height="25.5" fill="#dcdcdc"/>
<rect x="356.6" y="201.5" width="0.5" height="25.5" fill="#dcdcdc"/>
<rect x="426.7" y="201.5" width="0.5" height="25.5" fill="#dcdcdc"/>
<rect x="497" y="201.5" width="0.5" height="25.5" fill="#dcdcdc"/>
<text x="149.6" y="241.8" font-size="5.2" fill="#555" font-weight="normal" text-anchor="start" textLength="27" lengthAdjust="spacingAndGlyphs" >Bounce Rate</text>
<text x="149.6" y="251.6" font-size="8.4" fill="#444" font-weight="normal" text-anchor="start" textLength="29.6" lengthAdjust="spacingAndGlyphs" >76.66%</text>
<path d="M150.8,255.1 L157.0,255.5 L163.2,255.3 L169.3,255.7 L175.5,255.5 L181.7,255.9 L187.9,255.7 L192.8,254.7 L197.1,255.9 L203.3,255.5 L208.3,255.7 L212.6,255.3 L212.6,260.8 L150.79999999999998,260.8 Z" fill="#e2f1fb"/>
<path d="M150.8,255.1 L157.0,255.5 L163.2,255.3 L169.3,255.7 L175.5,255.5 L181.7,255.9 L187.9,255.7 L192.8,254.7 L197.1,255.9 L203.3,255.5 L208.3,255.7 L212.6,255.3" fill="none" stroke="#4ab4e6" stroke-width="0.8" stroke-linejoin="round"/>
<text x="220" y="241.8" font-size="5.2" fill="#555" font-weight="normal" text-anchor="start" textLength="35.7" lengthAdjust="spacingAndGlyphs" >% New Sessions</text>
<text x="220" y="251.6" font-size="8.4" fill="#444" font-weight="normal" text-anchor="start" textLength="29.6" lengthAdjust="spacingAndGlyphs" >61.64%</text>
<path d="M221.2,255.9 L226.1,255.5 L230.5,256.3 L234.8,255.1 L239.7,255.9 L244.7,255.5 L249.6,254.4 L254.6,255.9 L259.5,256.3 L264.5,254.7 L269.4,255.9 L274.3,255.5 L278.7,254.9 L283.0,255.5 L283,260.8 L221.2,260.8 Z" fill="#e2f1fb"/>
<path d="M221.2,255.9 L226.1,255.5 L230.5,256.3 L234.8,255.1 L239.7,255.9 L244.7,255.5 L249.6,254.4 L254.6,255.9 L259.5,256.3 L264.5,254.7 L269.4,255.9 L274.3,255.5 L278.7,254.9 L283.0,255.5" fill="none" stroke="#4ab4e6" stroke-width="0.8" stroke-linejoin="round"/>
<rect x="216" y="237" width="0.5" height="26.5" fill="#dcdcdc"/>
<rect x="286.4" y="237" width="0.5" height="26.5" fill="#dcdcdc"/>
<text x="148" y="289.4" font-size="4.6" fill="#2a2a2a" font-weight="bold" text-anchor="start" textLength="32.6" lengthAdjust="spacingAndGlyphs" >Demographics</text>
<rect x="146.4" y="291" width="158.4" height="0.8" fill="#9a9a9a"/>
<rect x="146.4" y="292" width="158.4" height="10.8" fill="#e4f0fb"/>
<text x="148" y="298.9" font-size="4.5" fill="#333" font-weight="normal" text-anchor="start" textLength="19.8" lengthAdjust="spacingAndGlyphs" >Language</text>
<path d="M299.4,296 l1.6,1.2 l-1.6,1.2 z" fill="#555"/>
<text x="148" y="310.1" font-size="4.5" fill="#3a87c8" font-weight="normal" text-anchor="start" textLength="16.2" lengthAdjust="spacingAndGlyphs" >Country</text>
<text x="148" y="321.2" font-size="4.5" fill="#3a87c8" font-weight="normal" text-anchor="start" textLength="8.2" lengthAdjust="spacingAndGlyphs" >City</text>
<text x="148" y="333.9" font-size="4.6" fill="#2a2a2a" font-weight="bold" text-anchor="start" textLength="15.8" lengthAdjust="spacingAndGlyphs" >System</text>
<rect x="146.4" y="335.9" width="158.4" height="0.8" fill="#9a9a9a"/>
<text x="148" y="343.7" font-size="4.5" fill="#3a87c8" font-weight="normal" text-anchor="start" textLength="16.8" lengthAdjust="spacingAndGlyphs" >Browser</text>
<text x="148" y="354.9" font-size="4.5" fill="#3a87c8" font-weight="normal" text-anchor="start" textLength="37" lengthAdjust="spacingAndGlyphs" >Operating System</text>
<text x="322.8" y="289.4" font-size="4.6" fill="#2a2a2a" font-weight="bold" text-anchor="start" textLength="22" lengthAdjust="spacingAndGlyphs" >Language</text>
<rect x="313" y="291" width="362.2" height="0.8" fill="#9a9a9a"/>
<text x="316" y="298.9" font-size="4.4" fill="#333" font-weight="normal" text-anchor="start" >1.</text>
<text x="322.8" y="298.9" font-size="4.4" fill="#3a87c8" font-weight="normal" text-anchor="start" textLength="11.4" lengthAdjust="spacingAndGlyphs" >en-us</text>
<rect x="313" y="302.80" width="362.2" height="0.5" fill="#dcdcdc"/>
<text x="316" y="310.12" font-size="4.4" fill="#333" font-weight="normal" text-anchor="start" >2.</text>
<text x="322.8" y="310.12" font-size="4.4" fill="#3a87c8" font-weight="normal" text-anchor="start" textLength="11.8" lengthAdjust="spacingAndGlyphs" >en-gb</text>
<rect x="313" y="314.02" width="362.2" height="0.5" fill="#dcdcdc"/>
<text x="316" y="321.34" font-size="4.4" fill="#333" font-weight="normal" text-anchor="start" >3.</text>
<text x="322.8" y="321.34" font-size="4.4" fill="#3a87c8" font-weight="normal" text-anchor="start" textLength="17.4" lengthAdjust="spacingAndGlyphs" >(not set)</text>
<rect x="313" y="325.24" width="362.2" height="0.5" fill="#dcdcdc"/>
<text x="316" y="332.56" font-size="4.4" fill="#333" font-weight="normal" text-anchor="start" >4.</text>
<text x="322.8" y="332.56" font-size="4.4" fill="#3a87c8" font-weight="normal" text-anchor="start" textLength="5" lengthAdjust="spacingAndGlyphs" >de</text>
<rect x="313" y="336.46" width="362.2" height="0.5" fill="#dcdcdc"/>
<text x="316" y="343.78" font-size="4.4" fill="#333" font-weight="normal" text-anchor="start" >5.</text>
<text x="322.8" y="343.78" font-size="4.4" fill="#3a87c8" font-weight="normal" text-anchor="start" textLength="3.8" lengthAdjust="spacingAndGlyphs" >ru</text>
<rect x="313" y="347.68" width="362.2" height="0.5" fill="#dcdcdc"/>
<text x="316" y="355.0" font-size="4.4" fill="#333" font-weight="normal" text-anchor="start" >6.</text>
<text x="322.8" y="355.0" font-size="4.4" fill="#3a87c8" font-weight="normal" text-anchor="start" textLength="3.2" lengthAdjust="spacingAndGlyphs" >pl</text>
<rect x="313" y="358.90" width="362.2" height="0.5" fill="#dcdcdc"/>
<rect x="470" y="285" width="112" height="76" fill="url(#panelshadow)"/>
<rect x="563.2" y="194" width="3.6" height="3.6" fill="#2fa4e7"/>
<text x="568.5" y="197.8" font-size="4.7" fill="#444" font-weight="normal" text-anchor="start" textLength="23.2" lengthAdjust="spacingAndGlyphs" >New Visitor</text>
<rect x="598.5" y="194" width="3.6" height="3.6" fill="#6fd04a"/>
<text x="604" y="197.8" font-size="4.7" fill="#444" font-weight="normal" text-anchor="start" textLength="33.7" lengthAdjust="spacingAndGlyphs" >Returning Visitor</text>
<circle cx="603.3" cy="239" r="33.7" fill="#7fd95a"/>
<path d="M603.3,239 L603.3,205.3 A33.7,33.7 0 1 1 580.79,264.08 Z" fill="#4cc0fb"/>
<path d="M603.3,205.3 V239 L580.79,264.08" fill="none" stroke="#fff" stroke-width="0.5"/>
<text x="576" y="231.4" font-size="3" fill="#fff" font-weight="bold" text-anchor="start" >38.4%</text>
<text x="622" y="249.6" font-size="3" fill="#fff" font-weight="bold" text-anchor="start" >61.6%</text>
<rect x="572" y="252" width="180" height="140" rx="10" fill="#000" opacity="0.13" filter="url(#blur3)"/>
</g>
<rect x="60.5" y="177" width="62" height="12" fill="url(#shadowdown)" opacity="0.7"/>
<rect x="697.8" y="177" width="50" height="12" fill="url(#shadowdown)" opacity="0.7"/>
<path d="M71.5,163.8 L93,167 L116.3,147 L139.3,139.7 L160.8,158.7 L183.6,162.8 L206.9,131.6 L230.4,151.4 L251.8,155.2 L272.9,145 L297,149.9 L320.5,119.7 L340.5,132.9 L365.8,157 L384.8,163.3 L410,166.6 L431.5,160.2 L454.2,160 L477.5,138 L498,148.9 L521,152.7 L546.6,158.6 L568.6,166.3 L590,160 L612,153.7 L631.8,153.2 L656.3,143.8 L680.1,140.5 L702.9,162.8 L726,152.7 L747.7,162.5 V177.4 H71.5 Z" fill="#eaf6fe" fill-opacity="0.97"/>
<path d="M150,165 L172,168 L185,160 L206.9,146 L230.4,161 L251,165 L260,158 L275,154 L290,158 L307,149 L323,153 L340.5,133 L365,150 L390,160 L410,166 L431,160 L460,148 L477,151 L498,155 L530,166 L546,161 L568,166 L590,162 L612,158 L631,161 L645,155 L665,162" fill="none" stroke="#d6e9f8" stroke-width="0.8"/>
<path d="M71.5,163.8 L93,167 L116.3,147 L139.3,139.7 L160.8,158.7 L183.6,162.8 L206.9,131.6 L230.4,151.4 L251.8,155.2 L272.9,145 L297,149.9 L320.5,119.7 L340.5,132.9 L365.8,157 L384.8,163.3 L410,166.6 L431.5,160.2 L454.2,160 L477.5,138 L498,148.9 L521,152.7 L546.6,158.6 L568.6,166.3 L590,160 L612,153.7 L631.8,153.2 L656.3,143.8 L680.1,140.5 L702.9,162.8 L726,152.7 L747.7,162.5" fill="none" stroke="url(#lineg)" stroke-width="2" stroke-linejoin="round" stroke-linecap="round"/>
<circle cx="71.5" cy="163.8" r="3" fill="url(#lineg)"/>
<circle cx="93" cy="167" r="3" fill="url(#lineg)"/>
<circle cx="116.3" cy="147" r="3" fill="url(#lineg)"/>
<circle cx="139.3" cy="139.7" r="3" fill="url(#lineg)"/>
<circle cx="160.8" cy="158.7" r="3" fill="url(#lineg)"/>
<circle cx="183.6" cy="162.8" r="3" fill="url(#lineg)"/>
<circle cx="206.9" cy="131.6" r="3" fill="url(#lineg)"/>
<circle cx="230.4" cy="151.4" r="3" fill="url(#lineg)"/>
<circle cx="251.8" cy="155.2" r="3" fill="url(#lineg)"/>
<circle cx="272.9" cy="145" r="3" fill="url(#lineg)"/>
<circle cx="297" cy="149.9" r="3" fill="url(#lineg)"/>
<circle cx="320.5" cy="119.7" r="3" fill="url(#lineg)"/>
<circle cx="340.5" cy="132.9" r="3" fill="url(#lineg)"/>
<circle cx="365.8" cy="157" r="3" fill="url(#lineg)"/>
<circle cx="384.8" cy="163.3" r="3" fill="url(#lineg)"/>
<circle cx="410" cy="166.6" r="3" fill="url(#lineg)"/>
<circle cx="431.5" cy="160.2" r="3" fill="url(#lineg)"/>
<circle cx="454.2" cy="160" r="3" fill="url(#lineg)"/>
<circle cx="477.5" cy="138" r="3" fill="url(#lineg)"/>
<circle cx="498" cy="148.9" r="3" fill="url(#lineg)"/>
<circle cx="568.6" cy="166.3" r="3" fill="url(#lineg)"/>
<circle cx="612" cy="153.7" r="3" fill="url(#lineg)"/>
<circle cx="631.8" cy="153.2" r="3" fill="url(#lineg)"/>
<circle cx="656.3" cy="143.8" r="3" fill="url(#lineg)"/>
<circle cx="680.1" cy="140.5" r="3" fill="url(#lineg)"/>
<circle cx="702.9" cy="162.8" r="3" fill="url(#lineg)"/>
<circle cx="726" cy="152.7" r="3" fill="url(#lineg)"/>
<circle cx="747.7" cy="162.5" r="3" fill="url(#lineg)"/>
<rect x="578" y="256" width="170" height="131" rx="10" fill="#000" opacity="0.16" filter="url(#blur2)"/>
<clipPath id="pclip"><rect x="582" y="254.4" width="164.4" height="129" rx="8"/></clipPath>
<rect x="582" y="254.4" width="164.4" height="129" rx="8" fill="#fff" fill-opacity="0.91"/>
<rect x="697.9" y="314.4" width="60" height="80" fill="#fff" clip-path="url(#pclip)"/>
<g filter="url(#blurT)" opacity="0.22">
<rect x="602.9" y="269.9" width="39.2" height="18.4" fill="#000"/>
<rect x="602.9" y="309.1" width="11.2" height="19.3" fill="#000"/>
<rect x="602.9" y="349.2" width="4.4" height="19.2" fill="#000"/>
<text x="655.4" y="288.3" font-size="21" fill="#000" font-weight="normal" text-anchor="start" textLength="66.1" lengthAdjust="spacingAndGlyphs" >48.48%</text>
<text x="634.1" y="327.3" font-size="21" fill="#000" font-weight="normal" text-anchor="start" textLength="64.9" lengthAdjust="spacingAndGlyphs" >29.66%</text>
<text x="625.3" y="367.3" font-size="21" fill="#000" font-weight="normal" text-anchor="start" textLength="54.1" lengthAdjust="spacingAndGlyphs" >8.78%</text>
</g>
<rect x="602.9" y="266.9" width="39.2" height="18.4" fill="url(#barg)"/>
<rect x="602.9" y="306.1" width="11.2" height="19.3" fill="url(#barg)"/>
<rect x="602.9" y="346.2" width="4.4" height="19.2" fill="url(#barg)"/>
<text x="655.4" y="285.3" font-size="21" fill="#38b5f4" font-weight="normal" text-anchor="start" textLength="66.1" lengthAdjust="spacingAndGlyphs" >48.48%</text>
<text x="634.1" y="324.3" font-size="21" fill="#38b5f4" font-weight="normal" text-anchor="start" textLength="64.9" lengthAdjust="spacingAndGlyphs" >29.66%</text>
<text x="625.3" y="364.3" font-size="21" fill="#38b5f4" font-weight="normal" text-anchor="start" textLength="54.1" lengthAdjust="spacingAndGlyphs" >8.78%</text>
</svg>
</body></html>
